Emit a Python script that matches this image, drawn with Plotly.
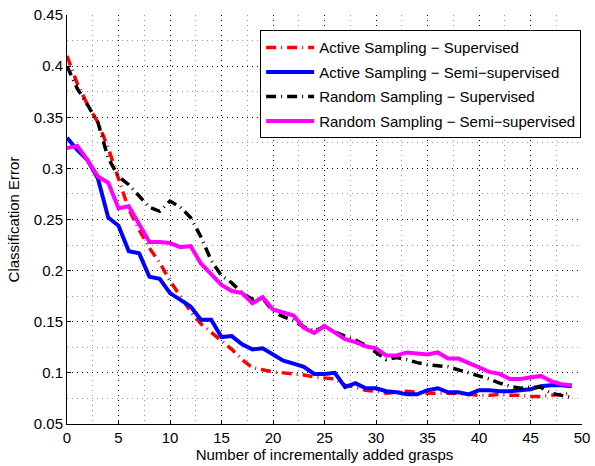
import plotly.graph_objects as go

x_vals = list(range(50))

active_sup = [0.41, 0.383, 0.362, 0.345, 0.32, 0.29, 0.26, 0.24, 0.222, 0.208,
              0.19, 0.175, 0.16, 0.148, 0.14, 0.132, 0.123, 0.113, 0.105, 0.103,
              0.101, 0.1, 0.099, 0.098, 0.096, 0.095, 0.094, 0.088, 0.086, 0.083,
              0.082, 0.08, 0.081, 0.082, 0.081, 0.08, 0.08, 0.08, 0.08, 0.079,
              0.078, 0.078, 0.079, 0.078, 0.078, 0.077, 0.077, 0.078, 0.079, 0.08]

active_semi = [0.33, 0.318, 0.308, 0.29, 0.252, 0.244, 0.219, 0.217, 0.194, 0.192,
               0.178, 0.172, 0.165, 0.152, 0.152, 0.135, 0.136, 0.128, 0.123, 0.124,
               0.118, 0.112, 0.109, 0.106, 0.099, 0.099, 0.1, 0.086, 0.09, 0.085,
               0.085, 0.082, 0.081, 0.079, 0.079, 0.083, 0.085, 0.081, 0.081, 0.079,
               0.083, 0.083, 0.082, 0.082, 0.083, 0.084, 0.087, 0.088, 0.088, 0.087]

random_sup = [0.4, 0.378, 0.362, 0.345, 0.31, 0.292, 0.284, 0.273, 0.262, 0.258,
              0.268, 0.262, 0.252, 0.233, 0.21, 0.195, 0.188, 0.178, 0.172, 0.173,
              0.16, 0.155, 0.151, 0.145, 0.141, 0.145, 0.14, 0.136, 0.132, 0.127,
              0.12, 0.113, 0.115, 0.113, 0.11, 0.108, 0.107, 0.106, 0.103, 0.1,
              0.097, 0.094, 0.09, 0.087, 0.085, 0.086, 0.086, 0.08, 0.078, 0.076]

random_semi = [0.32, 0.322, 0.308, 0.292, 0.286, 0.261, 0.263, 0.246, 0.228, 0.228,
               0.227, 0.223, 0.224, 0.207, 0.196, 0.186, 0.18, 0.178, 0.168, 0.174,
               0.162, 0.159, 0.156, 0.144, 0.139, 0.146, 0.14, 0.133, 0.13, 0.126,
               0.124, 0.117, 0.117, 0.12, 0.119, 0.118, 0.12, 0.114, 0.114, 0.11,
               0.106, 0.101, 0.099, 0.094, 0.094, 0.096, 0.097, 0.092, 0.089, 0.088]

names = ["Active Sampling \u2212 Supervised",
         "Active Sampling \u2212 Semi\u2212supervised",
         "Random Sampling \u2212 Supervised",
         "Random Sampling \u2212 Semi\u2212supervised"]

series = [active_sup, active_semi, random_sup, random_semi]
colors = ["#ff0000", "#0000ff", "#000000", "#ff00ff"]
dashes = ["10px,5px,1px,5px", "solid", "10px,5px,1px,5px", "solid"]
widths = [3.5, 4, 3.5, 4]

fig = go.Figure()
for i, (n, s) in enumerate(zip(names, series)):
    fig.add_trace(go.Scatter(
        x=x_vals, y=s, mode="lines", name=n, legendgroup=f"g{i}",
        line=dict(color=colors[i], width=widths[i], dash=dashes[i]),
    ))

font = "Liberation Sans, Arial, Helvetica, sans-serif"

fig.update_layout(
    width=595, height=466,
    margin=dict(l=67, r=5, t=15, b=42),
    paper_bgcolor="white", plot_bgcolor="white",
    font=dict(family=font, size=15, color="black"),
    showlegend=True,
    legend=dict(
        x=0.375, y=0.963, xanchor="left", yanchor="top",
        bgcolor="white", bordercolor="black", borderwidth=1,
        font=dict(family=font, size=15, color="black"),
        tracegroupgap=2, traceorder="grouped", itemwidth=48,
    ),
    xaxis=dict(
        range=[0, 50], tick0=0, dtick=5,
        showgrid=True, gridcolor="black", griddash="1px,4px", gridwidth=1,
        showline=True, linecolor="black", linewidth=1,
        ticks="inside", ticklen=4, tickcolor="black",
        zeroline=False, ticklabeloverflow="allow",
        minor=dict(dtick=2.5, tick0=0, showgrid=True, gridcolor="#999999",
                   griddash="1px,4px", gridwidth=1, ticks=""),
        title=dict(text="Number of incrementally added grasps",
                   font=dict(size=15), standoff=3),
        tickfont=dict(size=15),
    ),
    yaxis=dict(
        range=[0.05, 0.45], tick0=0.05, dtick=0.05,
        showgrid=True, gridcolor="black", griddash="1px,4px", gridwidth=1,
        showline=True, linecolor="black", linewidth=1,
        ticks="inside", ticklen=4, tickcolor="black",
        zeroline=False, ticklabeloverflow="allow",
        minor=dict(dtick=0.025, tick0=0.05, showgrid=True, gridcolor="#999999",
                   griddash="1px,4px", gridwidth=1, ticks=""),
        title=dict(text="Classification Error", font=dict(size=15), standoff=10),
        tickfont=dict(size=15),
    ),
)

fig.write_html("out.html")
